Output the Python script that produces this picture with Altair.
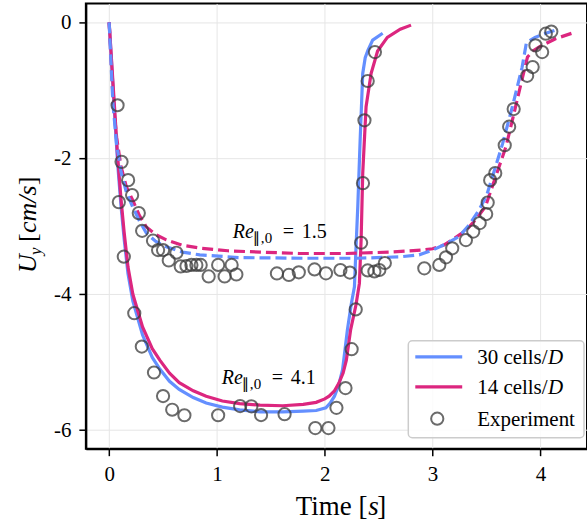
import altair as alt
import pandas as pd

# ---------------- data ----------------
# Simulations, Re = 4.1 (solid)
t_30_hi = [0, 0.03, 0.06, 0.08, 0.11, 0.14, 0.175, 0.22, 0.31, 0.40, 0.47, 0.56, 0.65, 0.78, 0.90,
           1.05, 1.21, 1.40, 1.61, 1.80, 1.92, 2.01, 2.05, 2.09, 2.13, 2.165, 2.21, 2.245, 2.275,
           2.29, 2.306, 2.328, 2.352, 2.375, 2.40, 2.444, 2.537]
u_30_hi = [0, -0.8, -1.6, -2.1, -2.7, -3.2, -3.7, -4.1, -4.6, -4.93, -5.1, -5.28, -5.40, -5.52, -5.60,
           -5.66, -5.70, -5.73, -5.73, -5.72, -5.71, -5.67, -5.60, -5.50, -5.33, -5.11, -4.52, -4.15, -3.89,
           -3.3, -2.71, -1.73, -0.75, -0.52, -0.41, -0.26, -0.16]

t_14_hi = [0, 0.03, 0.06, 0.08, 0.11, 0.14, 0.175, 0.22, 0.31, 0.40, 0.47, 0.56, 0.65, 0.78, 0.90,
           1.05, 1.21, 1.40, 1.61, 1.80, 1.92, 2.00, 2.04, 2.09, 2.13, 2.17, 2.20, 2.24, 2.29,
           2.321, 2.337, 2.352, 2.383, 2.43, 2.49, 2.58, 2.70, 2.80]
u_14_hi = [0, -0.75, -1.5, -2.0, -2.6, -3.1, -3.6, -4.0, -4.48, -4.80, -4.97, -5.16, -5.30, -5.42, -5.50,
           -5.57, -5.61, -5.63, -5.64, -5.62, -5.59, -5.54, -5.50, -5.42, -5.31, -5.16, -4.97, -4.52, -4.15,
           -3.84, -3.20, -2.22, -1.24, -0.75, -0.42, -0.22, -0.10, -0.04]

# Simulations, Re = 1.5 (dashed)
t_30_lo = [0, 0.035, 0.07, 0.11, 0.16, 0.22, 0.28, 0.345, 0.43, 0.53, 0.68, 0.84, 1.2, 1.8, 2.3,
           2.69, 2.875, 3.0, 3.12, 3.245, 3.34, 3.43, 3.50, 3.555, 3.65, 3.74, 3.83, 3.87, 3.95, 4.05, 4.13]
u_30_lo = [0, -1.2, -1.8, -2.2, -2.5, -2.72, -2.92, -3.1, -3.22, -3.30, -3.38, -3.42, -3.46, -3.47, -3.47,
           -3.45, -3.42, -3.35, -3.26, -3.15, -2.98, -2.76, -2.55, -2.27, -1.78, -1.24, -0.66, -0.30, -0.22, -0.16, -0.12]

t_14_lo = [0, 0.037, 0.07, 0.11, 0.16, 0.22, 0.28, 0.345, 0.43, 0.53, 0.68, 0.84, 1.1, 1.4, 1.76, 2.2,
           2.6, 2.9, 3.0, 3.10, 3.18, 3.31, 3.40, 3.49, 3.585, 3.68, 3.755, 3.82, 3.88, 3.93, 3.99, 4.14, 4.29]
u_14_lo = [0, -1.15, -1.7, -2.12, -2.42, -2.62, -2.84, -3.01, -3.12, -3.20, -3.28, -3.32, -3.36, -3.38, -3.40, -3.40,
           -3.38, -3.35, -3.33, -3.28, -3.20, -3.06, -2.90, -2.71, -2.27, -1.83, -1.34, -0.90, -0.51, -0.42, -0.36, -0.24, -0.16]

# Experiment
t_exp = [0.078, 0.115, 0.090, 0.136, 0.233, 0.303, 0.416, 0.500, 0.585, 0.698, 1.011, 1.215, 1.319, 1.409,
         1.627, 1.912, 2.034, 2.108, 2.192, 2.249, 2.287, 2.337, 2.354, 2.368, 2.398, 2.465,
         0.176, 0.213, 0.275, 0.306, 0.407, 0.454, 0.500, 0.553, 0.624, 0.664, 0.717, 0.763, 0.809, 0.849,
         0.923, 1.011, 1.071, 1.136, 1.180, 1.556, 1.667, 1.759, 1.905, 2.011, 2.145, 2.233, 2.398, 2.460,
         2.506, 2.557, 2.923, 3.062, 3.124, 3.182, 3.309, 3.377, 3.437, 3.497, 3.511, 3.534, 3.581, 3.669,
         3.710, 3.752, 3.877, 3.928, 3.954, 4.016, 4.050, 4.101]
u_exp = [-1.219, -2.052, -2.644, -3.447, -4.279, -4.769, -5.151, -5.498, -5.699, -5.780, -5.780, -5.645, -5.648, -5.777,
         -5.765, -5.968, -5.968, -5.670, -5.380, -4.808, -4.223, -3.242, -2.365, -1.440, -0.862, -0.436,
         -2.321, -2.541, -2.806, -3.066, -3.212, -3.349, -3.349, -3.503, -3.389, -3.591, -3.584, -3.569, -3.569, -3.569,
         -3.738, -3.569, -3.738, -3.569, -3.709, -3.694, -3.716, -3.677, -3.635, -3.691, -3.643, -3.680, -3.650, -3.665,
         -3.643, -3.540, -3.618, -3.569, -3.456, -3.324, -3.202, -3.077, -2.952, -2.820, -2.651, -2.321, -2.218, -1.807,
         -1.535, -1.275, -0.786, -0.657, -0.338, -0.436, -0.166, -0.135]

x_ticks = [0, 1, 2, 3, 4]
y_ticks = [0, -2, -4, -6]

# annotations (anchor = left/baseline of "Re")
ann_t = [1.147, 1.045]
ann_u = [-3.173, -5.317]
ann_val = ["1.5", "4.1"]

BLUE = "#648FFF"
PINK = "#DC267F"
FONT = "Liberation Serif"

xs = alt.Scale(domain=[-0.216, 4.432], nice=False, zero=False)
ys = alt.Scale(domain=[-6.272, 0.279], nice=False, zero=False)

xax = alt.Axis(values=x_ticks, labelExpr="'' + datum.value", title=None, grid=True)
yax = alt.Axis(values=y_ticks, labelExpr="'' + datum.value", title=None, grid=True)


def curve(ts, us, color, dash=None):
    df = pd.DataFrame({"t": ts, "u": us})
    kw = dict(color=color, strokeWidth=3.2, clip=True)
    if dash:
        kw["strokeDash"] = dash
    return alt.Chart(df).mark_line(**kw).encode(
        x=alt.X("t:Q", scale=xs, axis=xax),
        y=alt.Y("u:Q", scale=ys, axis=yax),
        order="t:Q",
    )


one = pd.DataFrame({"a": [0]})

base_lines = [
    curve(t_30_hi, u_30_hi, BLUE),
    curve(t_14_hi, u_14_hi, PINK),
    curve(t_14_lo, u_14_lo, PINK, [11, 5]),
    curve(t_30_lo, u_30_lo, BLUE, [11, 5]),
]

exp = alt.Chart(pd.DataFrame({"t": t_exp, "u": u_exp})).mark_point(
    shape="circle", filled=False, size=150, stroke="#3a3a3a", strokeWidth=2, opacity=0.75
).encode(x=alt.X("t:Q", scale=xs), y=alt.Y("u:Q", scale=ys))

# Re annotations
ann_df = pd.DataFrame({"t": ann_t, "u": ann_u, "v": ann_val})


def ann(text=None, size=20, dx=0, dy=0, style="normal", font=FONT, field=False):
    kw = dict(font=font, fontSize=size, align="left", baseline="alphabetic", dx=dx, dy=dy)
    if text is not None:
        kw["text"] = text
    if style != "normal":
        kw["fontStyle"] = style
    enc = dict(x=alt.X("t:Q", scale=xs), y=alt.Y("u:Q", scale=ys))
    if field:
        enc["text"] = "v:N"
    return alt.Chart(ann_df).mark_text(**kw).encode(**enc)


anns = [
    ann("Re", style="italic"),
    ann("\u2225", size=15, dx=20, dy=5, font="DejaVu Sans"),
    ann(",", size=15, dx=28, dy=5),
    ann("0", size=15, dx=32, dy=5),
    ann("=", dx=50),
    ann(dx=69, field=True),
]


def txt(s, x, y, size=21, style="normal", angle=0, align="left"):
    kw = dict(text=s, font=FONT, fontSize=size, align=align, baseline="alphabetic")
    if style != "normal":
        kw["fontStyle"] = style
    if angle:
        kw["angle"] = angle
    return alt.Chart(one).mark_text(**kw).encode(x=alt.value(x), y=alt.value(y))


# legend (manual)
leg = [
    alt.Chart(one).mark_rect(cornerRadius=4, fill="white", fillOpacity=0.85,
                             stroke="#cccccc", strokeWidth=1.5).encode(
        x=alt.value(323), x2=alt.value(499), y=alt.value(338), y2=alt.value(435)),
    alt.Chart(one).mark_rule(color=BLUE, strokeWidth=3.2).encode(
        x=alt.value(330), x2=alt.value(377), y=alt.value(354)),
    alt.Chart(one).mark_rule(color=PINK, strokeWidth=3.2).encode(
        x=alt.value(330), x2=alt.value(377), y=alt.value(384)),
    alt.Chart(one).mark_point(shape="circle", filled=False, size=150, stroke="#3a3a3a",
                              strokeWidth=2, opacity=0.75).encode(x=alt.value(352), y=alt.value(416)),
    txt("30 cells/", 392, 361),
    txt("D", 463, 361, style="italic"),
    txt("14 cells/", 392, 391),
    txt("D", 463, 391, style="italic"),
    txt("Experiment", 392, 423),
]

# axis titles (composed)
titles = [
    txt("Time [", 282, 512, size=27, align="right"),
    txt("s", 283, 512, size=27, style="italic"),
    txt("]", 292, 512, size=27),
    txt("U", -50, 270, size=26, style="italic", angle=270),
    txt("y", -45, 252, size=17, style="italic", angle=270),
    txt("[", -50, 239, size=26, angle=270),
    txt("cm/s", -50, 230, size=26, style="italic", angle=270),
    txt("]", -50, 182, size=26, angle=270),
]

chart = alt.layer(
    *base_lines, exp, *anns, *leg, *titles
).properties(
    width=502, height=446,
    padding={"left": 86, "top": 3, "right": 0, "bottom": 77},
    autosize="none",
    background="white",
).configure_view(
    stroke="black", strokeWidth=2
).configure_axis(
    domainColor="black", domainWidth=2, tickColor="black", tickWidth=1.5, tickSize=7,
    labelFont=FONT, labelFontSize=21, labelColor="black", labelPadding=8,
    gridColor="#e6e6e6", gridWidth=1,
)

chart.save("out.html", embed_options={"renderer": "svg", "actions": False})
